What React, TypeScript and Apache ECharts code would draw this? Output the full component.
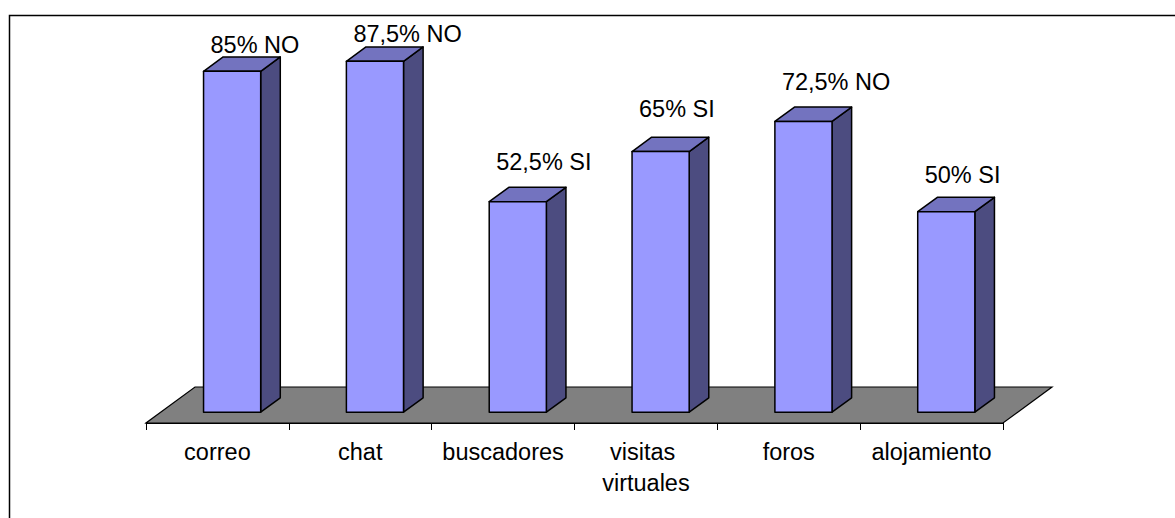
import React, { useEffect, useRef } from "react";
import * as echarts from "echarts";

const categories = ["correo", "chat", "buscadores", "visitas virtuales", "foros", "alojamiento"];
const values = [85, 87.5, 52.5, 65, 72.5, 50];
const answers = ["NO", "NO", "SI", "SI", "NO", "SI"];

// layout tweaks (pixels) for the value labels
const labelNudge = [13, 12, 0, -3, 0, 3];

const FONT = '"Liberation Sans", Arial, sans-serif';
const FONT_SIZE = 23.5;
const DEPTH_X = 49;
const DEPTH_Y = -36;
const FRONT_D = 0.3;
const BACK_D = 0.7;

function fmt(v: number) {
  return String(v).replace(".", ",") + "%";
}

export default function App() {
  const ref = useRef<HTMLDivElement>(null);
  useEffect(() => {
    if (!ref.current) return;
    const chart = echarts.init(ref.current, null, { renderer: "svg" });
    const option: any = {
      animation: false,
      backgroundColor: "#ffffff",
      graphic: [
        {
          type: "rect",
          shape: { x: 9.5, y: 15.5, width: 1300, height: 700 },
          style: { fill: "none", stroke: "#000", lineWidth: 1.5 },
          silent: true,
          z: 0,
        },
      ],
      grid: { left: 146, right: 172, top: 22, bottom: 95 },
      xAxis: {
        type: "category",
        data: categories,
        boundaryGap: true,
        axisLine: { show: true, lineStyle: { color: "#000", width: 1 } },
        axisTick: { show: true, length: 7, interval: 0, lineStyle: { color: "#000", width: 1 } },
        axisLabel: {
          interval: 0,
          color: "#000",
          fontFamily: FONT,
          fontSize: FONT_SIZE,
          lineHeight: 31,
          margin: 13,
          width: 138,
          overflow: "break",
        },
        splitLine: { show: false },
      },
      yAxis: {
        type: "value",
        min: 0,
        max: 100,
        show: false,
        splitLine: { show: false },
      },
      series: [
        {
          type: "custom",
          z: 1,
          data: [[0, 0]],
          renderItem: (params: any, api: any) => {
            const cs = params.coordSys;
            const l = cs.x;
            const r = cs.x + cs.width;
            const b = cs.y + cs.height;
            return {
              type: "polygon",
              shape: {
                points: [
                  [l, b],
                  [r, b],
                  [r + DEPTH_X, b + DEPTH_Y],
                  [l + DEPTH_X, b + DEPTH_Y],
                ],
              },
              style: { fill: "#808080", stroke: "#000", lineWidth: 1.2 },
            };
          },
        },
        {
          type: "custom",
          z: 2,
          data: values.map((v, i) => [i, v]),
          renderItem: (params: any, api: any) => {
            const i = api.value(0);
            const v = api.value(1);
            const top = api.coord([i, v]);
            const base = api.coord([i, 0]);
            const band = api.size([1, 0])[0];
            const w = band * 0.2;
            const cx = top[0];
            const fx = FRONT_D * DEPTH_X;
            const fy = FRONT_D * DEPTH_Y;
            const bx = BACK_D * DEPTH_X;
            const by = BACK_D * DEPTH_Y;
            const tY = top[1];
            const bY = base[1];
            const stroke = { stroke: "#000", lineWidth: 1.5, lineJoin: "round" };
            const idx = params.dataIndex;
            const labelBaseline = tY + by - 17 + labelNudge[idx];
            return {
              type: "group",
              children: [
                {
                  type: "polygon",
                  shape: {
                    points: [
                      [cx + w + fx, bY + fy],
                      [cx + w + bx, bY + by],
                      [cx + w + bx, tY + by],
                      [cx + w + fx, tY + fy],
                    ],
                  },
                  style: { fill: "#4C4C80", ...stroke },
                },
                {
                  type: "polygon",
                  shape: {
                    points: [
                      [cx - w + fx, tY + fy],
                      [cx + w + fx, tY + fy],
                      [cx + w + bx, tY + by],
                      [cx - w + bx, tY + by],
                    ],
                  },
                  style: { fill: "#7373BF", ...stroke },
                },
                {
                  type: "polygon",
                  shape: {
                    points: [
                      [cx - w + fx, bY + fy],
                      [cx + w + fx, bY + fy],
                      [cx + w + fx, tY + fy],
                      [cx - w + fx, tY + fy],
                    ],
                  },
                  style: { fill: "#9999FF", ...stroke },
                },
                {
                  type: "text",
                  style: {
                    text: fmt(v) + " " + answers[idx],
                    x: cx - w + fx + 7,
                    y: labelBaseline - 8,
                    fill: "#000",
                    font: `${FONT_SIZE}px ${FONT}`,
                    fontSize: FONT_SIZE,
                    fontFamily: FONT,
                    align: "left",
                    textAlign: "left",
                    verticalAlign: "middle",
                    textVerticalAlign: "middle",
                  },
                },
              ],
            };
          },
        },
      ],
    };
    chart.setOption(option);
    return () => chart.dispose();
  }, []);
  return (
    <div
      ref={ref}
      style={{ position: "fixed", left: 0, top: 0, width: 1175, height: 518, background: "#fff" }}
    />
  );
}
